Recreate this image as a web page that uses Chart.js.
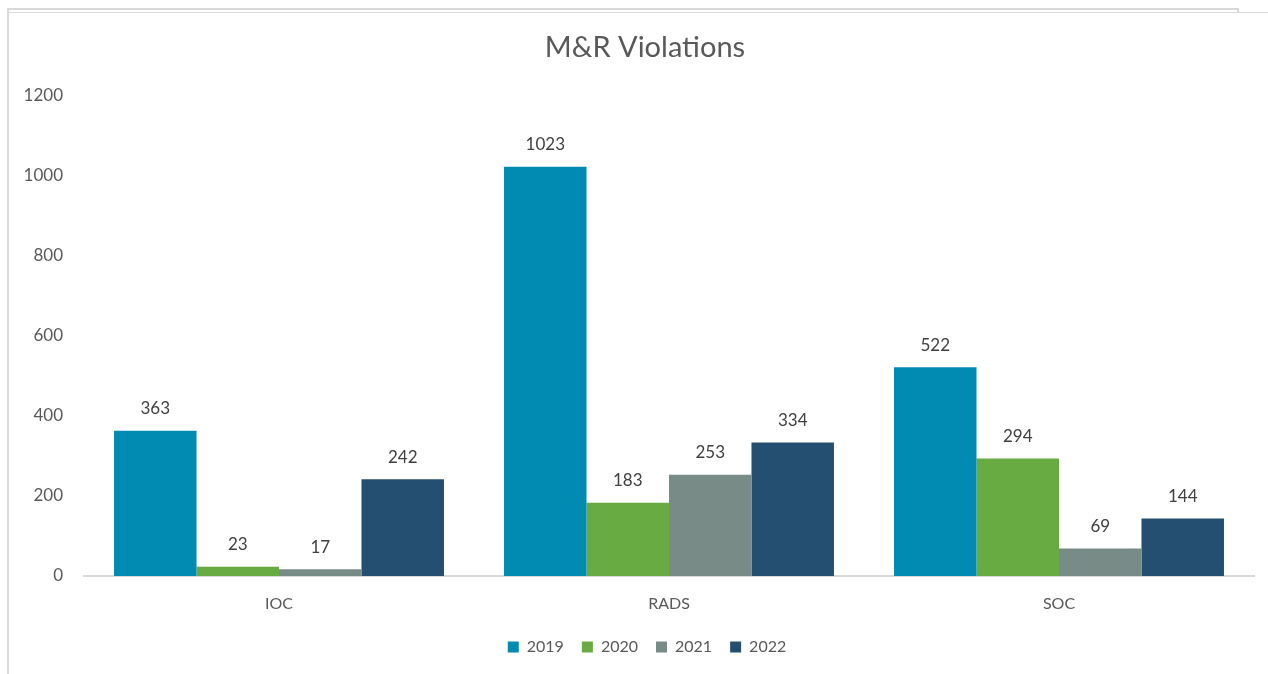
<!DOCTYPE html>
<html>
<head>
<meta charset="utf-8">
<script src="https://cdn.jsdelivr.net/npm/chart.js@4/dist/chart.umd.min.js"></script>
<style>
  html, body { margin: 0; padding: 0; background: #ffffff; }
  #wrap { position: relative; width: 1268px; height: 674px; overflow: hidden; }
  canvas { position: absolute; left: 0; top: 0; }
  .ln { position: absolute; background: #d9d9d9; }
</style>
</head>
<body>
<div id="wrap">
  <canvas id="c" width="1268" height="674"></canvas>
  <div class="ln" style="left:7px;top:8px;width:1231px;height:2px;"></div>
  <div class="ln" style="left:1237px;top:8px;width:2px;height:5px;"></div>
  <div class="ln" style="left:9px;top:12px;width:1259px;height:1px;"></div>
  <div class="ln" style="left:7px;top:8px;width:2px;height:666px;"></div>
</div>
<script>
const titleText = "M&R Violations";
const categories = ["IOC", "RADS", "SOC"];
const seriesNames = ["2019", "2020", "2021", "2022"];
const values2019 = [363, 1023, 522];
const values2020 = [23, 183, 294];
const values2021 = [17, 253, 69];
const values2022 = [242, 334, 144];
const yTicks = [0, 200, 400, 600, 800, 1000, 1200];

const colors = ["#018AB2", "#68AB42", "#788B87", "#244F71"];
const FONT = "Lato, 'Open Sans', sans-serif";

const dataLabelPlugin = {
  id: "dataLabels",
  afterDatasetsDraw(chart) {
    const ctx = chart.ctx;
    ctx.save();
    ctx.font = "17px " + FONT;
    ctx.fillStyle = "#404040";
    ctx.textAlign = "center";
    ctx.textBaseline = "middle";
    chart.data.datasets.forEach((ds, i) => {
      const meta = chart.getDatasetMeta(i);
      meta.data.forEach((el, j) => {
        ctx.fillText(String(ds.data[j]), el.x, el.y - 22);
      });
    });
    ctx.restore();
  }
};

const titlePlugin = {
  id: "chartTitle",
  afterLayout(chart) {
    // shift the legend's centre so it sits under the title like the reference
    if (chart.legend) chart.legend.left += 30;
  },
  afterDraw(chart) {
    const ctx = chart.ctx;
    ctx.save();
    ctx.font = "29px " + FONT;
    ctx.fillStyle = "#595959";
    ctx.textAlign = "center";
    ctx.textBaseline = "middle";
    ctx.fillText(titleText, 645, 48);
    ctx.restore();
  }
};

const allSeries = [values2019, values2020, values2021, values2022];

new Chart(document.getElementById("c"), {
  type: "bar",
  data: {
    labels: categories,
    datasets: seriesNames.map((n, i) => ({
      label: n,
      data: allSeries[i],
      backgroundColor: colors[i],
      borderWidth: 0,
      categoryPercentage: 0.846,
      barPercentage: 1.0
    }))
  },
  options: {
    responsive: false,
    animation: false,
    devicePixelRatio: 1,
    layout: { padding: { left: 10, right: 14, top: 96, bottom: 9 } },
    plugins: {
      title: { display: false },
      legend: {
        display: true,
        position: "bottom",
        labels: {
          color: "#595959",
          font: { family: FONT, size: 16 },
          boxWidth: 11,
          boxHeight: 11,
          padding: 18
        }
      },
      tooltip: { enabled: false }
    },
    scales: {
      x: {
        afterFit(scale) { scale.height = 45; },
        grid: { display: false, drawTicks: false },
        border: { display: true, color: "#d9d9d9", width: 2 },
        ticks: { color: "#595959", font: { family: FONT, size: 16 }, padding: 18 }
      },
      y: {
        min: 0,
        max: 1200,
        afterBuildTicks(scale) { scale.ticks = yTicks.map(v => ({ value: v })); },
        afterFit(scale) { scale.width = 74; },
        grid: { display: false, drawTicks: false },
        border: { display: false },
        ticks: {
          color: "#595959",
          font: { family: FONT, size: 17 },
          padding: 21,
          callback: (v) => String(v)
        }
      }
    }
  },
  plugins: [dataLabelPlugin, titlePlugin]
});
</script>
</body>
</html>
